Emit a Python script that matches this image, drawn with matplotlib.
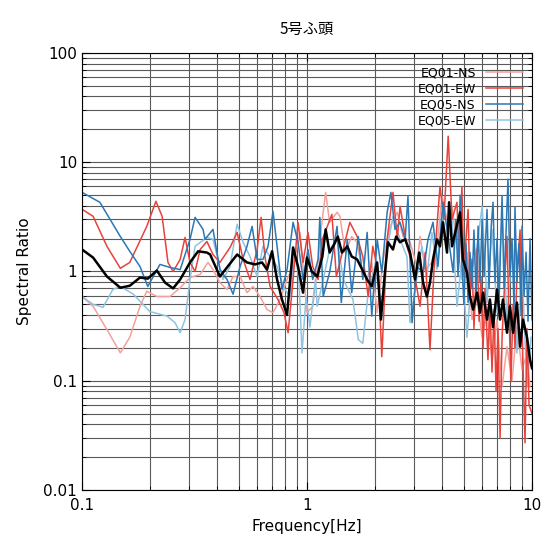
import matplotlib
matplotlib.use("Agg")
import matplotlib.pyplot as plt
from matplotlib.ticker import LogLocator, NullFormatter, FixedLocator, FixedFormatter

# EQ01-NS (light red)
f_01ns = [0.100, 0.112, 0.129, 0.148, 0.163, 0.181, 0.194, 0.215, 0.246, 0.273, 0.302, 0.335, 0.363,
          0.382, 0.410, 0.441, 0.469, 0.504, 0.541, 0.575, 0.618, 0.664, 0.706, 0.759, 0.815, 0.867,
          0.931, 1.00, 1.06, 1.12, 1.14, 1.21, 1.26, 1.36, 1.40, 1.48, 1.58, 1.67, 1.76, 1.85, 1.94,
          2.05, 2.18, 2.34, 2.52, 2.67, 2.87, 3.08, 3.18, 3.35, 3.59, 3.78, 3.98, 4.19, 4.41, 4.64,
          4.88, 5.14, 5.41, 5.70, 6.00, 6.31, 6.64, 6.99, 7.36, 7.74, 8.15, 8.57, 9.03, 9.5, 9.8]
v_01ns = [0.59, 0.48, 0.294, 0.18, 0.25, 0.48, 0.66, 0.59, 0.59, 0.71, 0.88, 0.94, 1.21,
          1.04, 0.79, 0.684, 0.90, 0.90, 0.64, 0.73, 0.59, 0.448, 0.42, 0.554, 0.845, 1.11,
          2.28, 0.42, 0.48, 1.21, 1.97, 5.3, 2.82, 3.48, 3.2, 1.49, 2.09, 1.85, 0.98, 0.845, 1.21,
          0.42, 1.29, 2.59, 3.48, 2.09, 1.85, 1.11, 2.09, 1.04, 1.21, 1.70, 4.88, 3.0, 3.95, 1.70,
          0.845, 1.49, 0.363, 0.554, 0.25, 0.42, 0.156, 0.363, 0.088, 0.205, 0.1, 0.31, 0.126, 0.18, 0.088]

# EQ01-EW (red)
f_01ew = [0.100, 0.112, 0.129, 0.148, 0.163, 0.194, 0.213, 0.227, 0.241, 0.254, 0.273, 0.287, 0.302,
          0.318, 0.335, 0.359, 0.382, 0.410, 0.455, 0.489, 0.520, 0.558, 0.600, 0.625, 0.650, 0.685,
          0.743, 0.790, 0.824, 0.867, 0.912, 0.960, 1.01, 1.06, 1.12, 1.17, 1.29, 1.35, 1.55, 1.67,
          1.77, 1.87, 1.96, 2.07, 2.15, 2.27, 2.41, 2.52, 2.59, 2.78, 2.96, 3.18, 3.35, 3.52, 3.70,
          3.90, 4.06, 4.24, 4.41, 4.64, 4.74, 4.88, 4.98, 5.09, 5.20, 5.30, 5.41, 5.52, 5.70, 5.82,
          5.93, 6.06, 6.18, 6.37, 6.50, 6.64, 6.78, 6.92, 7.06, 7.21, 7.36, 7.51, 7.74, 7.90, 8.06,
          8.24, 8.40, 8.57, 8.85, 9.03, 9.31, 9.5, 9.7, 10.0]
v_01ew = [3.71, 3.2, 1.70, 1.07, 1.21, 2.59, 4.39, 3.2, 1.21, 1.0, 1.29, 2.05, 1.21,
          1.0, 1.59, 1.88, 1.43, 1.21, 1.66, 2.28, 1.29, 0.845, 1.59, 3.13, 1.37, 0.73,
          0.554, 0.42, 0.275, 0.845, 2.82, 1.21, 2.28, 1.11, 0.845, 1.97, 3.33, 0.90, 2.82, 2.09,
          1.37, 0.59, 1.70, 1.0, 0.166, 1.97, 5.3, 2.0, 3.95, 1.70, 1.11, 0.48, 1.49, 0.192, 1.49,
          6.0, 3.0, 17.3, 3.0, 4.3, 1.2, 6.0, 0.9, 2.0, 3.7, 0.6, 1.3, 0.3, 1.6, 0.35,
          0.9, 0.2, 0.7, 0.156, 0.5, 0.12, 0.45, 0.08, 0.3, 0.03, 0.25, 0.6, 2.1, 0.4, 0.1,
          0.5, 0.2, 1.0, 2.4, 0.3, 0.027, 0.3, 0.06, 0.05]

# EQ05-NS (blue)
f_05ns = [0.100, 0.120, 0.148, 0.163, 0.181, 0.196, 0.222, 0.246, 0.273, 0.302, 0.318, 0.345, 0.352,
          0.382, 0.410, 0.441, 0.469, 0.504, 0.541, 0.570, 0.600, 0.637, 0.671, 0.706, 0.736, 0.774,
          0.815, 0.867, 0.912, 0.960, 1.01, 1.06, 1.12, 1.14, 1.18, 1.26, 1.36, 1.42, 1.51, 1.58,
          1.69, 1.77, 1.85, 1.94, 2.05, 2.15, 2.27, 2.36, 2.46, 2.59, 2.73, 2.81, 2.93, 3.08, 3.28,
          3.45, 3.63, 3.82, 4.02, 4.24, 4.46, 4.59, 4.69, 4.79, 4.88, 4.98, 5.09, 5.20, 5.30, 5.41,
          5.52, 5.64, 5.76, 5.87, 6.00, 6.12, 6.31, 6.44, 6.58, 6.71, 6.85, 6.99, 7.13, 7.36, 7.51,
          7.66, 7.82, 7.98, 8.15, 8.32, 8.40, 8.57, 8.75, 8.94, 9.03, 9.22, 9.41, 9.6, 9.8, 10.0]
v_05ns = [5.3, 4.30, 2.09, 1.53, 1.11, 0.73, 1.16, 1.09, 1.04, 1.97, 3.13, 2.43, 1.97,
          2.43, 1.04, 0.845, 0.62, 1.11, 1.70, 2.59, 1.29, 1.29, 1.70, 3.55, 1.70, 0.684,
          1.04, 2.82, 1.85, 0.845, 1.59, 0.845, 1.29, 3.13, 0.59, 0.98, 2.59, 0.52, 1.97, 0.64,
          2.09, 0.845, 2.28, 0.39, 1.97, 0.98, 3.48, 5.3, 2.43, 2.82, 1.97, 4.88, 0.34, 1.11, 0.98,
          1.97, 2.82, 1.11, 4.30, 2.09, 0.98, 3.0, 0.9, 5.0, 1.2, 0.5, 1.8, 0.52, 1.5, 0.7,
          2.4, 0.6, 2.6, 0.8, 3.0, 0.9, 3.7, 0.7, 2.5, 4.3, 0.8, 2.0, 0.5, 4.9, 0.7,
          2.2, 7.0, 0.9, 2.0, 0.45, 3.9, 0.8, 1.8, 0.4, 2.6, 0.6, 1.5, 0.35, 2.0, 0.36]

# EQ05-EW (light blue)
f_05ew = [0.100, 0.112, 0.124, 0.137, 0.148, 0.169, 0.200, 0.239, 0.259, 0.273, 0.287, 0.302, 0.318,
          0.359, 0.382, 0.423, 0.455, 0.489, 0.520, 0.558, 0.600, 0.637, 0.685, 0.736, 0.782, 0.840,
          0.885, 0.921, 0.950, 0.990, 1.03, 1.09, 1.11, 1.18, 1.26, 1.36, 1.45, 1.60, 1.69, 1.77,
          1.87, 2.00, 2.15, 2.27, 2.41, 2.59, 2.78, 2.87, 3.02, 3.24, 3.41, 3.59, 3.78, 3.98, 4.19,
          4.41, 4.64, 4.88, 5.14, 5.41, 5.70, 6.00, 6.31, 6.64, 6.99, 7.36, 7.74, 8.15, 8.57, 9.03,
          9.5, 9.9]
v_05ew = [0.59, 0.50, 0.47, 0.684, 0.73, 0.62, 0.43, 0.39, 0.34, 0.275, 0.363, 0.845, 1.70,
          2.05, 1.97, 0.845, 1.11, 2.70, 1.85, 1.37, 0.90, 1.70, 1.37, 1.11, 0.73, 0.59,
          1.49, 0.845, 0.18, 0.59, 0.31, 0.845, 0.48, 0.845, 1.59, 1.97, 0.845, 0.554, 0.238, 0.22,
          0.64, 1.11, 0.48, 1.59, 3.2, 1.97, 1.37, 0.34, 0.684, 1.70, 0.90, 2.28, 1.04, 3.48, 1.70,
          3.0, 0.48, 1.29, 0.25, 1.04, 1.70, 3.95, 0.52, 2.43, 0.42, 3.48, 0.363, 1.70, 0.18, 1.04,
          0.088, 0.25]

# average (black)
f_avg = [0.100, 0.112, 0.129, 0.148, 0.163, 0.181, 0.196, 0.215, 0.234, 0.254, 0.273, 0.302, 0.328,
         0.359, 0.371, 0.410, 0.441, 0.489, 0.541, 0.587, 0.631, 0.664, 0.699, 0.736, 0.774, 0.815,
         0.867, 0.912, 0.960, 1.00, 1.05, 1.11, 1.17, 1.21, 1.26, 1.32, 1.37, 1.43, 1.51, 1.58,
         1.67, 1.76, 1.85, 1.94, 2.05, 2.13, 2.22, 2.29, 2.41, 2.49, 2.59, 2.73, 2.87, 3.02, 3.15,
         3.18, 3.28, 3.41, 3.52, 3.63, 3.78, 3.90, 4.02, 4.19, 4.28, 4.41, 4.59, 4.79, 4.93, 5.14,
         5.30, 5.47, 5.70, 5.87, 6.06, 6.31, 6.50, 6.71, 6.99, 7.21, 7.43, 7.74, 7.98, 8.24, 8.57,
         8.85, 9.12, 9.5, 9.8, 10.0]
v_avg = [1.59, 1.34, 0.90, 0.71, 0.74, 0.88, 0.86, 1.02, 0.79, 0.70, 0.845, 1.21, 1.53,
         1.49, 1.43, 0.90, 1.09, 1.43, 1.21, 1.16, 1.21, 1.04, 1.53, 0.845, 0.554, 0.40,
         1.66, 1.11, 0.64, 1.34, 1.0, 0.90, 1.37, 2.43, 1.49, 1.77, 2.09, 1.49, 1.70, 1.37,
         1.29, 1.04, 0.845, 0.73, 1.21, 0.363, 0.98, 1.85, 1.59, 2.09, 1.85, 1.97, 1.49, 0.845, 1.49,
         1.29, 0.79, 0.59, 0.79, 1.29, 1.97, 1.70, 2.82, 1.49, 4.30, 1.70, 2.43, 3.48, 1.29, 0.98,
         0.59, 0.448, 0.64, 0.42, 0.64, 0.363, 0.554, 0.31, 0.684, 0.363, 0.554, 0.275, 0.48, 0.275, 0.52,
         0.205, 0.363, 0.25, 0.156, 0.13]

labels = ["EQ01-NS", "EQ01-EW", "EQ05-NS", "EQ05-EW"]

fig = plt.figure(figsize=(5.52, 5.44), dpi=100)
ax = fig.add_axes([0.1486, 0.0993, 0.8152, 0.8033])

ax.plot(f_01ns, v_01ns, color="#f3a19b", lw=1.1, label=labels[0])
ax.plot(f_05ew, v_05ew, color="#8fc3e2", lw=1.1, label=labels[3])
ax.plot(f_01ew, v_01ew, color="#e8423b", lw=1.1, label=labels[1])
ax.plot(f_05ns, v_05ns, color="#2b78b5", lw=1.1, label=labels[2])
ax.plot(f_avg, v_avg, color="black", lw=1.8)

ax.set_xscale("log")
ax.set_yscale("log")
ax.set_xlim(0.1, 10)
ax.set_ylim(0.01, 100)

ax.xaxis.set_major_locator(FixedLocator([0.1, 1, 10]))
ax.xaxis.set_major_formatter(FixedFormatter(["0.1", "1", "10"]))
ax.yaxis.set_major_locator(FixedLocator([0.01, 0.1, 1, 10, 100]))
ax.yaxis.set_major_formatter(FixedFormatter(["0.01", "0.1", "1", "10", "100"]))
ax.xaxis.set_minor_locator(LogLocator(base=10, subs=range(2, 10)))
ax.yaxis.set_minor_locator(LogLocator(base=10, subs=range(2, 10)))
ax.xaxis.set_minor_formatter(NullFormatter())
ax.yaxis.set_minor_formatter(NullFormatter())

ax.grid(True, which="both", color="#5a5a5a", lw=0.8)
ax.set_axisbelow(True)
ax.tick_params(which="both", direction="in", top=True, right=True, labelsize=11)
ax.tick_params(which="major", length=6)
ax.tick_params(which="minor", length=3)
ax.tick_params(axis="x", pad=6)

ax.set_xlabel("Frequency[Hz]", fontsize=11)
ax.set_ylabel("Spectral Ratio", fontsize=11, labelpad=8)
ax.set_title("5号ふ頭", fontsize=11, pad=14, family=["Noto Sans CJK JP", "DejaVu Sans"])

h, l = ax.get_legend_handles_labels()
order = [l.index(x) for x in labels]
ax.legend([h[i] for i in order], [l[i] for i in order], loc="upper right", frameon=False,
          markerfirst=False, fontsize=9, handlelength=3, labelspacing=0.25,
          borderaxespad=0.3, bbox_to_anchor=(1.0, 0.99))

fig.savefig("out.png", dpi=100)
